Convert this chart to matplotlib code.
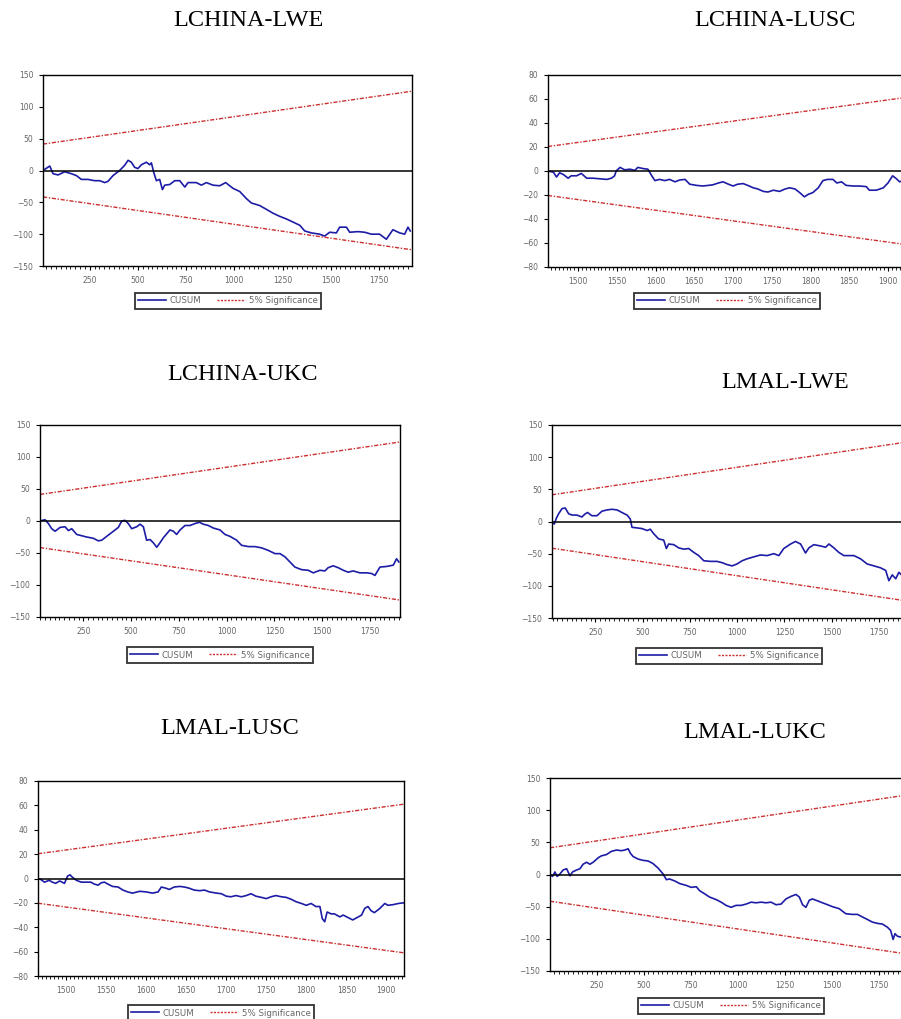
import numpy as np
import matplotlib
matplotlib.use("Agg")
import matplotlib.pyplot as plt
from matplotlib.ticker import MultipleLocator
from matplotlib.lines import Line2D

# ---- data ----
titles = ["LCHINA-LWE", "LCHINA-LUSC", "LCHINA-UKC", "LMAL-LWE", "LMAL-LUSC", "LMAL-LUKC"]

# LCHINA-LWE
x1 = [8, 43, 60, 86, 120, 155, 181, 207, 241, 276, 302, 328, 345, 371, 405, 431, 449, 466, 483, 500,
      518, 544, 561, 570, 582, 596, 613, 627, 639, 665, 691, 717, 743, 760, 803, 829, 855, 889, 924, 955,
      993, 1028, 1062, 1088, 1131, 1166, 1200, 1235, 1269, 1304, 1339, 1365, 1399, 1442, 1468, 1494, 1529,
      1546, 1581, 1598, 1641, 1676, 1710, 1753, 1788, 1822, 1857, 1883, 1900, 1912]
y1 = [0, 7, -5, -7, -2, -5, -8, -14, -14, -16, -16, -19, -17, -8, 0, 8, 16, 13, 5, 3,
      9, 13, 9, 12, -3, -16, -14, -30, -23, -22, -16, -16, -26, -19, -19, -23, -19, -23, -24, -19,
      -28, -33, -44, -51, -55, -61, -67, -72, -76, -81, -86, -95, -98, -100, -103, -97, -98,
      -89, -89, -97, -96, -97, -100, -100, -108, -93, -98, -100, -89, -95]
b1 = [[8, 1920], [41.5, 124.5]]

# LCHINA-LUSC
x2 = [1461, 1468, 1472, 1476, 1481, 1487, 1491, 1498, 1504, 1511, 1519, 1528, 1537, 1543, 1547, 1549,
      1554, 1560, 1567, 1573, 1577, 1584, 1590, 1595, 1599, 1605, 1612, 1618, 1625, 1631, 1638, 1644,
      1653, 1661, 1668, 1674, 1681, 1687, 1694, 1700, 1706, 1713, 1719, 1726, 1732, 1739, 1745, 1752,
      1760, 1767, 1773, 1780, 1786, 1792, 1797, 1803, 1810, 1816, 1822, 1829, 1834, 1840, 1846, 1855,
      1863, 1872, 1876, 1885, 1894, 1900, 1906, 1911, 1915, 1920]
y2 = [0, -1, -5, -1.5, -3, -6, -4, -4, -2, -6, -6, -6.5, -7, -6, -4, 0,
      3, 1, 1.5, 0.5, 3, 2, 1.5, -4, -8, -7, -8, -7, -9, -7.5, -7, -11,
      -12, -12.5, -12, -11.5, -10, -9, -11, -12.5, -11, -10.5, -12, -14, -15, -17, -17.5, -16,
      -17, -15, -14, -15, -18, -21.5, -19.5, -18, -14, -8, -7, -7, -10, -9, -12, -12.5,
      -12.5, -13, -16, -16, -14, -10, -4, -6.5, -9, -8]
b2 = [[1461, 1922], [20.4, 61.2]]

# LCHINA-UKC
x3 = [23, 49, 67, 84, 102, 128, 154, 172, 189, 215, 241, 267, 302, 328, 346, 372, 407, 433, 451, 468,
      485, 503, 529, 547, 564, 581, 599, 616, 634, 651, 669, 686, 703, 721, 738, 756, 782, 808, 834, 857,
      878, 904, 930, 965, 991, 1017, 1052, 1078, 1113, 1148, 1183, 1218, 1253, 1279, 1305, 1331, 1357,
      1392, 1427, 1453, 1488, 1514, 1531, 1557, 1584, 1610, 1636, 1662, 1697, 1732, 1758, 1776, 1802,
      1837, 1872, 1889, 1901]
y3 = [0, 2, -4, -12, -16, -10, -9, -15, -12, -21, -23, -25, -27, -31, -30, -24, -16, -10, 0, 1,
      -4, -12, -9, -5, -9, -30, -29, -34, -41, -34, -26, -20, -14, -16, -21, -14, -7, -7, -4, -2,
      -5, -7, -11, -14, -21, -24, -30, -38, -40, -40, -42, -46, -51, -51, -56, -64, -72,
      -76, -77, -81, -77, -78, -73, -70, -73, -77, -80, -78, -81, -81, -82, -85, -72,
      -71, -69, -59, -64]
b3 = [[23, 1907], [41.5, 123.5]]

# LMAL-LWE
x4 = [21, 33, 44, 56, 74, 91, 109, 127, 153, 179, 197, 209, 232, 259, 285, 312, 338, 365, 391, 418,
      435, 444, 471, 497, 524, 541, 559, 585, 612, 626, 638, 665, 691, 718, 744, 771, 797, 824, 859, 894,
      921, 947, 974, 1000, 1027, 1053, 1088, 1124, 1159, 1194, 1221, 1247, 1283, 1309, 1336, 1362, 1380,
      1406, 1441, 1468, 1486, 1512, 1538, 1565, 1591, 1618, 1653, 1688, 1724, 1759, 1786, 1803, 1821,
      1839, 1856, 1870, 1890, 1915]
y4 = [0, -4, 5, 12, 20, 21, 12, 10, 10, 7, 12, 14, 9, 9, 16, 18, 19, 18, 14, 10,
      4, -9, -10, -11, -14, -12, -19, -27, -29, -42, -35, -36, -41, -43, -42, -48, -53, -61, -62, -62,
      -64, -67, -69, -66, -61, -58, -55, -52, -53, -50, -53, -42, -35, -31, -35, -49, -41,
      -36, -38, -40, -35, -41, -48, -53, -53, -53, -58, -66, -69, -72, -76, -92, -83,
      -89, -79, -83, -85, -80]
b4 = [[21, 1920], [41.5, 124.5]]

# LMAL-LUSC
x5 = [1465, 1469, 1473, 1479, 1483, 1487, 1492, 1498, 1502, 1505, 1508, 1513, 1519, 1525, 1531, 1535,
      1540, 1544, 1548, 1552, 1558, 1565, 1571, 1577, 1583, 1592, 1600, 1608, 1615, 1619, 1625, 1629,
      1635, 1642, 1648, 1654, 1660, 1667, 1673, 1679, 1688, 1694, 1700, 1706, 1712, 1719, 1725, 1731,
      1737, 1744, 1750, 1756, 1762, 1769, 1775, 1781, 1787, 1794, 1800, 1806, 1812, 1817, 1820, 1823,
      1826, 1831, 1835, 1842, 1846, 1852, 1858, 1865, 1869, 1873, 1877, 1881, 1885, 1892, 1898, 1902,
      1908, 1915, 1921]
y5 = [0, -1, -3, -1.5, -3, -4, -2, -4, 2, 3, 1, -1.5, -3, -3, -3, -4.5,
      -5.5, -3.5, -3, -4.5, -6.5, -7, -9.5, -11, -12, -10.5, -11, -12, -11, -7, -8, -9,
      -7, -6.5, -7, -8, -9.5, -10, -9.5, -11, -12, -12.5, -14.5, -15, -14, -15, -14, -12.5,
      -14.5, -15.5, -16.5, -15, -14, -15, -15.5, -17, -19, -20.5, -22, -20.5, -23, -23, -33, -35.5,
      -27.5, -29, -29, -31.5, -30, -32, -34, -31.5, -30, -24.5, -23, -26.5, -28, -24.5, -20.5, -22,
      -21.5, -20.5, -20]
b5 = [[1465, 1922], [20.3, 61.0]]

# LMAL-LUKC
x6 = [3, 17, 29, 41, 56, 73, 91, 109, 123, 144, 162, 179, 197, 215, 232, 259, 276, 303, 329, 356,
      382, 400, 418, 430, 444, 471, 497, 524, 550, 577, 603, 621, 638, 665, 691, 727, 753, 780, 797, 824,
      850, 885, 912, 938, 965, 991, 1018, 1044, 1071, 1097, 1124, 1150, 1177, 1203, 1230, 1256, 1283,
      1309, 1327, 1344, 1362, 1380, 1397, 1424, 1450, 1477, 1503, 1538, 1574, 1609, 1636, 1662, 1689,
      1715, 1742, 1768, 1795, 1812, 1825, 1835, 1848, 1862, 1890, 1915]
y6 = [0, -3, 4, -3, 1, 7, 9, -2, 4, 7, 9, 16, 19, 16, 19, 26, 29, 31, 36, 38,
      37, 38, 40, 33, 28, 24, 22, 21, 17, 10, 1, -8, -7, -10, -14, -17, -20, -19, -25, -30,
      -35, -39, -43, -48, -51, -48, -48, -46, -43, -44, -43, -44, -43, -47, -46, -38, -34,
      -31, -35, -47, -51, -40, -38, -41, -44, -47, -50, -53, -61, -62, -62, -66, -70,
      -74, -76, -77, -82, -87, -101, -92, -96, -97, -98, -95]
b6 = [[3, 1920], [41.5, 124.5]]

cusum_x = [x1, x2, x3, x4, x5, x6]
cusum_y = [y1, y2, y3, y4, y5, y6]
bands = [b1, b2, b3, b4, b5, b6]
xlims = [(8, 1921), (1461, 1922), (23, 1907), (21, 1920), (1465, 1922), (3, 1920)]
ylims = [150, 80, 150, 150, 80, 150]
xmajor = [250, 50, 250, 250, 50, 250]
xminor = [25, 5, 25, 25, 5, 25]
ymajor = [50, 20, 50, 50, 20, 50]

# ---- layout (pixels: left, top, right, bottom) ----
W, H = 901, 1019
boxes = [(43, 75, 412, 266), (548, 75, 905, 267), (40, 425, 400, 617),
         (552, 425, 911, 618), (38, 781, 404, 976), (550, 778, 911, 971)]
title_pos = [(248, 21), (775, 21), (243, 375), (785, 382), (230, 728), (755, 733)]
legend_pos = [(228, 301), (727, 301), (220, 655), (729, 656), (221, 1013), (731, 1006)]

blue = "#1c1ca6"
red = "#cc3030"
gray = "#666666"

fig = plt.figure(figsize=(W / 100, H / 100), dpi=100)

for i in range(6):
    l, t, r, b = boxes[i]
    ax = fig.add_axes([l / W, 1 - b / H, (r - l) / W, (b - t) / H])
    ax.plot(cusum_x[i], cusum_y[i], color=blue, lw=1.2)
    bx, by = bands[i]
    ax.plot(bx, by, color=red, lw=1.0, dashes=(3, 1.2, 1, 1.2))
    ax.plot(bx, [-v for v in by], color=red, lw=1.0, dashes=(3, 1.2, 1, 1.2))
    ax.axhline(0, color="black", lw=1.1)
    ax.set_xlim(*xlims[i])
    ax.set_ylim(-ylims[i], ylims[i])
    ax.xaxis.set_major_locator(MultipleLocator(xmajor[i]))
    ax.xaxis.set_minor_locator(MultipleLocator(xminor[i]))
    ax.yaxis.set_major_locator(MultipleLocator(ymajor[i]))
    ax.tick_params(axis="both", which="major", labelsize=5.5, labelcolor=gray,
                   direction="out", length=3, width=0.8, pad=4)
    ax.tick_params(axis="x", which="minor", direction="out", length=2, width=0.6)
    for s in ax.spines.values():
        s.set_linewidth(1.0)

    tx, ty = title_pos[i]
    fig.text(tx / W, 1 - ty / H, titles[i], ha="center", va="center",
             fontsize=17.5, family="Liberation Serif")

    handles = [Line2D([], [], color=blue, lw=1.2),
               Line2D([], [], color=red, lw=1.0, dashes=(1.5, 1))]
    lx, ly = legend_pos[i]
    leg = fig.legend(handles, ["CUSUM", "5% Significance"], ncol=2, loc="center",
                     bbox_to_anchor=(lx / W, 1 - ly / H), fontsize=6.2, frameon=True,
                     fancybox=False, edgecolor="black", handlelength=3.2,
                     columnspacing=1.8, handletextpad=0.5, borderpad=0.4)
    leg.get_frame().set_linewidth(1.3)
    for txt in leg.get_texts():
        txt.set_color(gray)

fig.savefig("out.png", dpi=100)
